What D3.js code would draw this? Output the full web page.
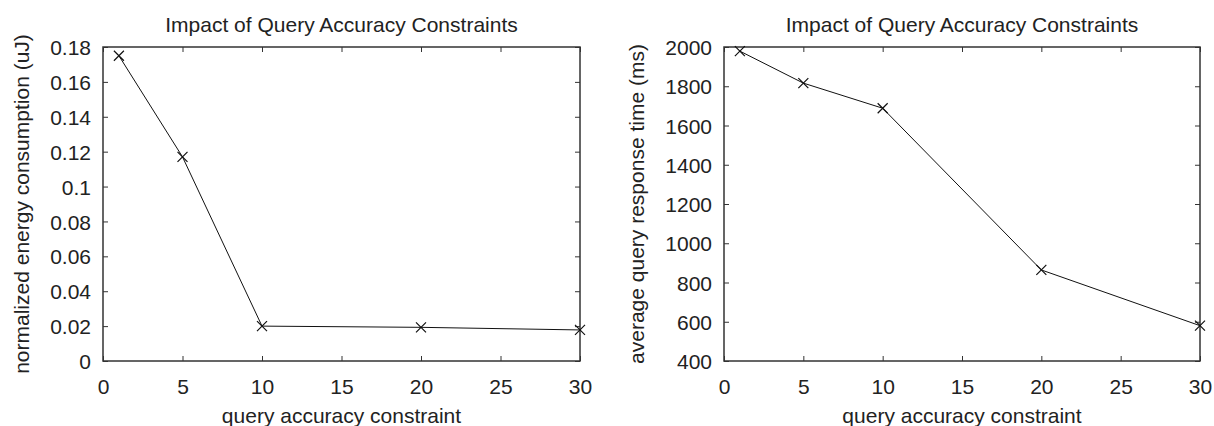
<!DOCTYPE html>
<html>
<head>
<meta charset="utf-8">
<script src="https://cdn.jsdelivr.net/npm/d3@7"></script>
<style>
  body { margin: 0; background: #fff; }
  svg { display: block; }
  text { font-family: "Liberation Sans", Arial, sans-serif; fill: #222; }
</style>
</head>
<body>
<svg id="chart" width="1214" height="426"></svg>
<script>
// query accuracy constraint values (shared x)
var constraints = [1, 5, 10, 20, 30];
// left panel: normalized energy consumption (uJ)
var energy = [0.175, 0.117, 0.0200, 0.0193, 0.0178];
// right panel: average query response time (ms)
var responseTime = [1979, 1816, 1688, 864, 580];

var xTicks = [0, 5, 10, 15, 20, 25, 30];
var energyTicks = [0, 0.02, 0.04, 0.06, 0.08, 0.1, 0.12, 0.14, 0.16, 0.18];
var timeTicks = [400, 600, 800, 1000, 1200, 1400, 1600, 1800, 2000];

var titleText = "Impact of Query Accuracy Constraints";
var xLabelText = "query accuracy constraint";

var svg = d3.select("#chart");
var fontSize = "21px";

function drawPanel(opts) {
    var g = svg.append("g").attr("transform", "translate(" + opts.left + "," + opts.top + ")");
    var w = opts.width, h = opts.height;

    var xScale = d3.scaleLinear().domain([0, 30]).range([0, w]);
    var yScale = d3.scaleLinear().domain(opts.yDomain).range([h, 0]);
    var tickLen = 5;

    // inward ticks on all four sides, gnuplot style
    var bottom = g.append("g").attr("transform", "translate(0," + h + ")")
        .call(d3.axisBottom(xScale).tickValues(xTicks).tickSize(-tickLen).tickPadding(18).tickFormat(d3.format("d")));
    var top = g.append("g")
        .call(d3.axisTop(xScale).tickValues(xTicks).tickSize(-tickLen).tickFormat(""));
    var left = g.append("g")
        .call(d3.axisLeft(yScale).tickValues(opts.yTicks).tickSize(-tickLen).tickPadding(12).tickFormat(opts.fmt));
    var right = g.append("g").attr("transform", "translate(" + w + ",0)")
        .call(d3.axisRight(yScale).tickValues(opts.yTicks).tickSize(-tickLen).tickFormat(""));

    [bottom, top, left, right].forEach(function(a) {
        a.select(".domain").remove();
        a.selectAll(".tick line").attr("stroke", "#333").attr("stroke-width", 1);
        a.selectAll(".tick text").style("font-size", fontSize).attr("fill", "#222")
            .style("font-family", "'Liberation Sans', Arial, sans-serif");
    });
    bottom.selectAll(".tick text").attr("dy", "0.71em");
    left.selectAll(".tick text").attr("dy", "0.36em");

    // frame
    g.append("rect").attr("x", 0).attr("y", 0).attr("width", w).attr("height", h)
        .attr("fill", "none").attr("stroke", "#333").attr("stroke-width", 1.5);

    var pts = constraints.map(function(c, i) { return [c, opts.values[i]]; });

    var line = d3.line()
        .x(function(d) { return xScale(d[0]); })
        .y(function(d) { return yScale(d[1]); });

    g.append("path").datum(pts).attr("d", line)
        .attr("fill", "none").attr("stroke", "#111").attr("stroke-width", 1);

    var s = 5;
    g.selectAll(".mark").data(pts).enter().append("path")
        .attr("class", "mark")
        .attr("d", function(d) {
            var x = xScale(d[0]), y = yScale(d[1]);
            return "M" + (x - s) + "," + (y - s) + "L" + (x + s) + "," + (y + s) +
                   "M" + (x - s) + "," + (y + s) + "L" + (x + s) + "," + (y - s);
        })
        .attr("stroke", "#111").attr("stroke-width", 1.2).attr("fill", "none");

    g.append("text").attr("x", w / 2).attr("y", -15)
        .attr("text-anchor", "middle").style("font-size", fontSize).text(titleText);

    g.append("text").attr("x", w / 2).attr("y", h + 62)
        .attr("text-anchor", "middle").style("font-size", fontSize).text(xLabelText);

    g.append("text")
        .attr("transform", "translate(" + opts.yLabelX + "," + (h / 2) + ") rotate(-90)")
        .attr("text-anchor", "middle").style("font-size", fontSize).text(opts.yLabel);
}

drawPanel({
    left: 103, top: 47, width: 477, height: 314,
    yDomain: [0, 0.18], yTicks: energyTicks,
    fmt: function(d) { return d3.format("")(+d.toFixed(2)); },
    values: energy,
    yLabel: "normalized energy consumption (uJ)", yLabelX: -74
});

drawPanel({
    left: 724, top: 47, width: 476, height: 314,
    yDomain: [400, 2000], yTicks: timeTicks,
    fmt: d3.format("d"),
    values: responseTime,
    yLabel: "average query response time (ms)", yLabelX: -80
});
</script>
</body>
</html>
